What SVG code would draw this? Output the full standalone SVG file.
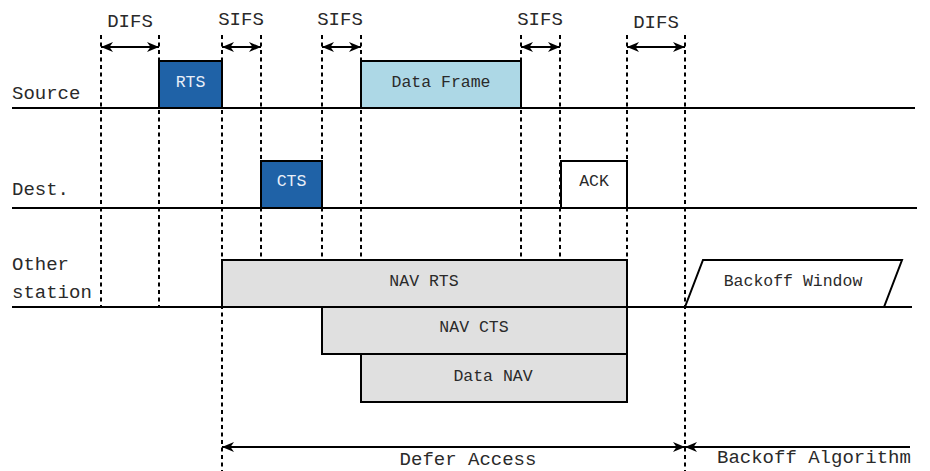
<svg xmlns="http://www.w3.org/2000/svg" width="930" height="471" viewBox="0 0 930 471">
  <style>
    text { font-family: "Liberation Mono", "DejaVu Sans Mono", monospace; fill: #2a2a2a; }
    .lbl { font-size: 19px; }
    .box-lbl { font-size: 16.5px; text-anchor: middle; }
    .light { fill: #e8eef8; }
    .axis { stroke: #000; stroke-width: 2; fill: none; }
    .tick { stroke: #000; stroke-width: 2; stroke-dasharray: 4 3.5; fill: none; }
    .box { stroke: #000; stroke-width: 2; }
    .arrow { stroke: #000; stroke-width: 2; fill: none; marker-end: url(#head); marker-start: url(#head); }
  </style>
  <defs>
    <marker id="head" viewBox="0 0 12 10" refX="12" refY="5" markerWidth="12" markerHeight="10" markerUnits="userSpaceOnUse" orient="auto-start-reverse">
      <path d="M0,0 L12,5 L0,10 L3.5,5 z" fill="#000"/>
    </marker>
  </defs>

  <rect width="930" height="471" fill="#fff"/>

  <!-- timing marks -->
  <g id="ticks">
    <line class="tick" x1="101" y1="35" x2="101" y2="307"/>
    <line class="tick" x1="159" y1="35" x2="159" y2="307"/>
    <line class="tick" x1="222" y1="35" x2="222" y2="471"/>
    <line class="tick" x1="261" y1="35" x2="261" y2="260"/>
    <line class="tick" x1="322" y1="35" x2="322" y2="260"/>
    <line class="tick" x1="361" y1="35" x2="361" y2="260"/>
    <line class="tick" x1="521" y1="35" x2="521" y2="260"/>
    <line class="tick" x1="560" y1="35" x2="560" y2="260"/>
    <line class="tick" x1="627" y1="35" x2="627" y2="260"/>
    <line class="tick" x1="685" y1="35" x2="685" y2="471"/>
  </g>

  <!-- station time axes -->
  <g id="axes">
    <line class="axis" x1="12" y1="108" x2="915" y2="108"/>
    <line class="axis" x1="12" y1="208" x2="917" y2="208"/>
    <line class="axis" x1="12" y1="307" x2="912" y2="307"/>
    <text class="lbl" x="12" y="99">Source</text>
    <text class="lbl" x="12" y="195">Dest.</text>
    <text class="lbl" x="12" y="270">Other</text>
    <text class="lbl" x="12" y="298">station</text>
  </g>

  <!-- interframe spaces -->
  <g id="connectors">
    <line class="arrow" x1="101" y1="47" x2="159" y2="47"/>
    <line class="arrow" x1="222" y1="47" x2="261" y2="47"/>
    <line class="arrow" x1="322" y1="47" x2="361" y2="47"/>
    <line class="arrow" x1="521" y1="47" x2="560" y2="47"/>
    <line class="arrow" x1="627" y1="47" x2="685" y2="47"/>
    <line class="arrow" x1="222" y1="447" x2="685" y2="447"/>
    <line class="axis" x1="685" y1="447" x2="910" y2="447" style="marker-start:url(#head)"/>
  </g>
  <g id="ifs-labels">
    <text class="lbl" x="130" y="27" text-anchor="middle">DIFS</text>
    <text class="lbl" x="241" y="25" text-anchor="middle">SIFS</text>
    <text class="lbl" x="340" y="25" text-anchor="middle">SIFS</text>
    <text class="lbl" x="540" y="25" text-anchor="middle">SIFS</text>
    <text class="lbl" x="656" y="28" text-anchor="middle">DIFS</text>
    <text class="lbl" x="468" y="465" text-anchor="middle">Defer Access</text>
    <text class="lbl" x="717" y="463">Backoff Algorithm</text>
  </g>

  <!-- frames -->
  <g id="rts">
    <rect class="box" x="159" y="61" width="63" height="47" fill="#1f62a7"/>
    <text class="box-lbl light" x="190.5" y="87">RTS</text>
  </g>
  <g id="data-frame">
    <rect class="box" x="361" y="61" width="160" height="47" fill="#add8e6"/>
    <text class="box-lbl" x="441" y="87">Data Frame</text>
  </g>
  <g id="cts">
    <rect class="box" x="261" y="161" width="61" height="47" fill="#1f62a7"/>
    <text class="box-lbl light" x="291.5" y="186">CTS</text>
  </g>
  <g id="ack">
    <rect class="box" x="561" y="161" width="66" height="47" fill="#fff"/>
    <text class="box-lbl" x="594" y="186">ACK</text>
  </g>

  <!-- network allocation vectors -->
  <g id="nav-rts">
    <rect class="box" x="222" y="260" width="405" height="47" fill="#e0e0e0"/>
    <text class="box-lbl" x="424" y="286">NAV RTS</text>
  </g>
  <g id="nav-cts">
    <rect class="box" x="322" y="307" width="305" height="47" fill="#e0e0e0"/>
    <text class="box-lbl" x="474" y="332">NAV CTS</text>
  </g>
  <g id="data-nav">
    <rect class="box" x="361" y="354" width="266" height="48" fill="#e0e0e0"/>
    <text class="box-lbl" x="493" y="381">Data NAV</text>
  </g>
  <g id="backoff-window">
    <polygon class="box" points="703,260 902,260 884,307 685,307" fill="#fff"/>
    <text class="box-lbl" x="793" y="286">Backoff Window</text>
  </g>
</svg>
